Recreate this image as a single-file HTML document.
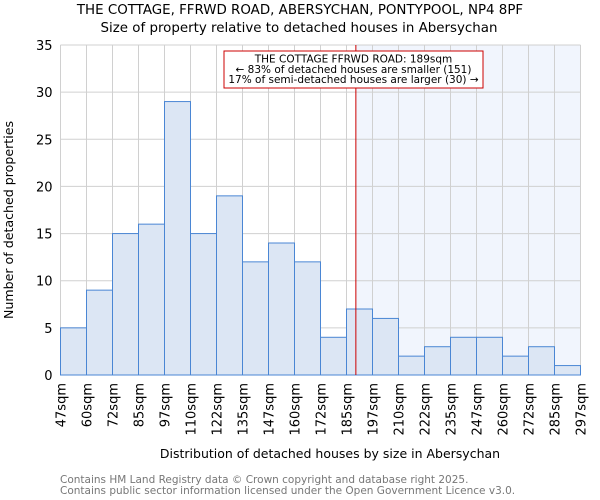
<!DOCTYPE html>
<html><head><meta charset="utf-8"><style>
body{margin:0;background:#fff;}
svg{display:block;font-family:"DejaVu Sans","Liberation Sans",sans-serif;}
</style></head><body>
<svg id="c" width="600" height="500" viewBox="0 0 600 500">
<text x="300" y="14" text-anchor="middle" font-size="13.4" fill="#000">THE COTTAGE, FFRWD ROAD, ABERSYCHAN, PONTYPOOL, NP4 8PF</text>
<text x="299" y="32" text-anchor="middle" font-size="13.4" fill="#000">Size of property relative to detached houses in Abersychan</text>
<g id="plot"></g>
<text x="330" y="458" text-anchor="middle" font-size="12.5">Distribution of detached houses by size in Abersychan</text>
<text transform="translate(13,220) rotate(-90)" text-anchor="middle" font-size="12.6">Number of detached properties</text>
<text x="60" y="483" font-size="10.5" fill="#777">Contains HM Land Registry data © Crown copyright and database right 2025.</text>
<text x="60" y="494" font-size="10.5" fill="#777">Contains public sector information licensed under the Open Government Licence v3.0.</text>
</svg>
<script>
const categories=["47sqm","60sqm","72sqm","85sqm","97sqm","110sqm","122sqm","135sqm","147sqm","160sqm","172sqm","185sqm","197sqm","210sqm","222sqm","235sqm","247sqm","260sqm","272sqm","285sqm","297sqm"];
const values=[5,9,15,16,29,15,19,12,14,12,4,7,6,2,3,4,4,2,3,1];
const yTicks=[0,5,10,15,20,25,30,35];
const binStart=47, binWidth=12.5, propertySize=189;
const L=60.5,R=580.5,T=45,B=375,yMax=35;
const n=values.length;
const xs=i=>L+(R-L)*i/n;
const xv=v=>L+(R-L)*(v-binStart)/(binWidth*n);
const y=v=>B-(B-T)*v/yMax;
const NS="http://www.w3.org/2000/svg";
const g=document.getElementById('plot');
function mk(t,a){const e=document.createElementNS(NS,t);for(const k in a)e.setAttribute(k,a[k]);g.appendChild(e);return e;}
const px=xv(propertySize);
let sh=mk('rect',{x:px,y:T,width:R-px,height:B-T,fill:'#f1f5fd'});


for(let i=0;i<=n;i++){let l=mk('line',{x1:xs(i),x2:xs(i),y1:T,y2:B,stroke:'#d0d0d0','stroke-width':1});

}
yTicks.forEach(t=>{let l=mk('line',{x1:L,x2:R,y1:y(t),y2:y(t),stroke:'#d0d0d0','stroke-width':1});


let tx=mk('text',{x:L-8,y:y(t)+5,'text-anchor':'end','font-size':13});tx.textContent=t;

});
values.forEach((v,i)=>{let r=mk('rect',{x:xs(i),y:y(v),width:xs(i+1)-xs(i),height:B-y(v),fill:'#dce6f4',stroke:'#4a86d4','stroke-width':1});

});
categories.forEach((c,i)=>{let tx=mk('text',{transform:`translate(${xs(i)+5},383) rotate(-90)`,'text-anchor':'end','font-size':13});tx.textContent=c;

});
let ml=mk('line',{x1:px,x2:px,y1:T,y2:B,stroke:'#cc0000','stroke-width':1});


let bx=mk('rect',{x:224,y:51,width:259,height:37,fill:'#fff',stroke:'#cc0000','stroke-width':1});


["THE COTTAGE FFRWD ROAD: 189sqm","← 83% of detached houses are smaller (151)","17% of semi-detached houses are larger (30) →"].forEach((s,i)=>{
let tx=mk('text',{x:353.5,y:62.5+i*10.3,'text-anchor':'middle','font-size':10.5});tx.textContent=s;

});
</script>
</body></html>
